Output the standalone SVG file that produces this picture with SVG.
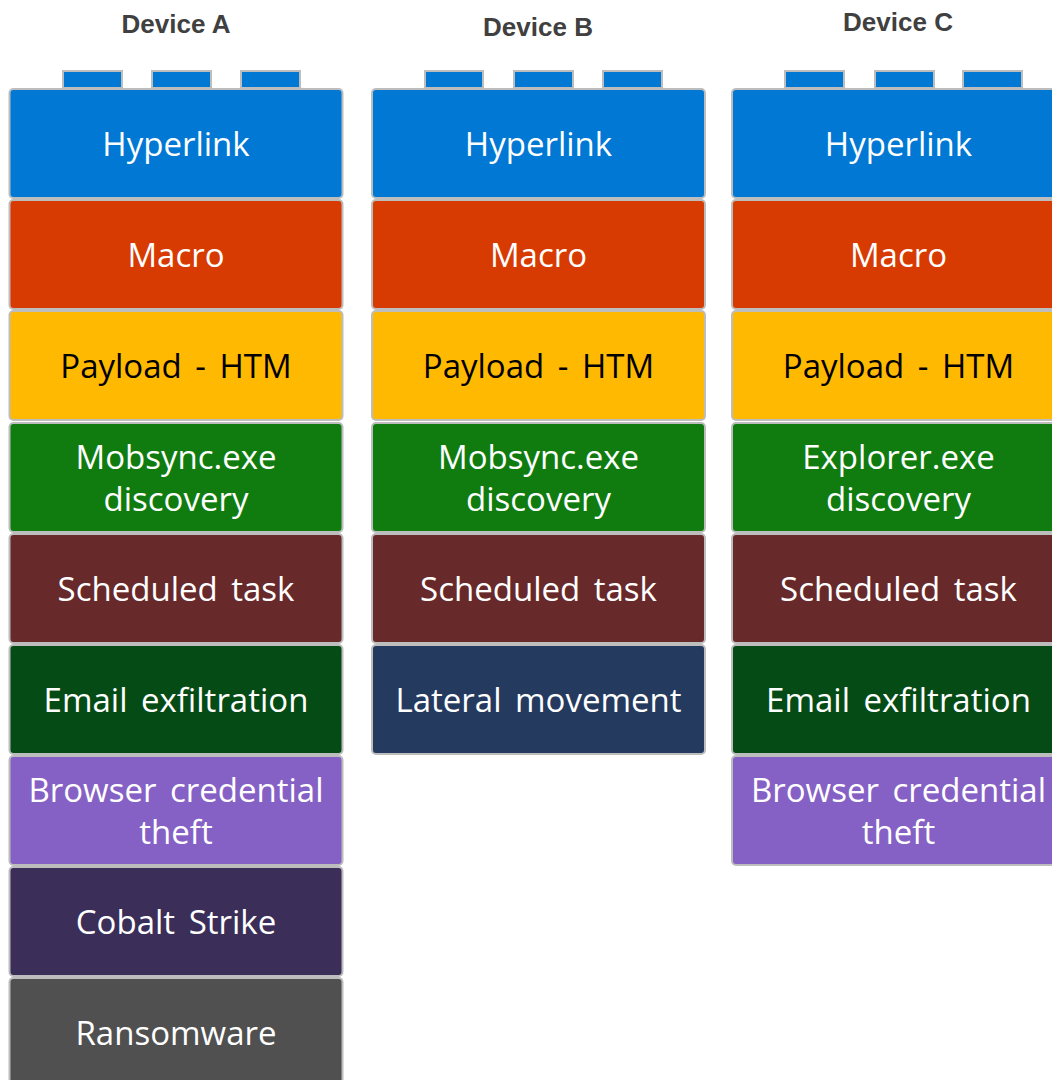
<svg xmlns="http://www.w3.org/2000/svg" width="1052" height="1080" viewBox="0 0 1052 1080">
<style>
.t{font-family:"Liberation Sans",Arial,sans-serif;font-weight:bold;font-size:26px;fill:#404040;text-anchor:middle}
.b{stroke:#BDBDBD;stroke-width:2}
.s{fill:#0078D4;stroke:#BDBDBD;stroke-width:2}
.l{font-family:"Open Sans","Noto Sans",sans-serif;font-size:33px;fill:#FFFFFF;text-anchor:middle;word-spacing:5px}
.dk{fill:#000000}
</style>
<rect width="1052" height="1080" fill="#FFFFFF"/>
<g id="titles">
<text class="t" x="176" y="33">Device A</text>
<text class="t" x="538" y="36">Device B</text>
<text class="t" x="898" y="31">Device C</text>
</g>
<g id="studs">
<rect class="s" x="63" y="71" width="59" height="17"/>
<rect class="s" x="152" y="71" width="59" height="17"/>
<rect class="s" x="241" y="71" width="59" height="17"/>
<rect class="s" x="425" y="71" width="58" height="17"/>
<rect class="s" x="514" y="71" width="59" height="17"/>
<rect class="s" x="603" y="71" width="59" height="17"/>
<rect class="s" x="785" y="71" width="59" height="17"/>
<rect class="s" x="875" y="71" width="59" height="17"/>
<rect class="s" x="963" y="71" width="59" height="17"/>
</g>
<g id="a1"><rect class="b" x="9.5" y="89" width="333" height="109" rx="4" fill="#0078D4"/><text class="l" x="176" y="156">Hyperlink</text></g>
<g id="a2"><rect class="b" x="9.5" y="200" width="333" height="109" rx="4" fill="#D83B01"/><text class="l" x="176" y="267">Macro</text></g>
<g id="a3"><rect class="b" x="9.5" y="311" width="333" height="109" rx="4" fill="#FFB900"/><text class="l dk" x="176" y="378">Payload - HTM</text></g>
<g id="a4"><rect class="b" x="9.5" y="423" width="333" height="109" rx="4" fill="#107C10"/><text class="l" x="176" y="469">Mobsync.exe</text><text class="l" x="176" y="511">discovery</text></g>
<g id="a5"><rect class="b" x="9.5" y="534" width="333" height="109" rx="4" fill="#68292A"/><text class="l" x="176" y="601">Scheduled task</text></g>
<g id="a6"><rect class="b" x="9.5" y="645" width="333" height="109" rx="4" fill="#054B16"/><text class="l" x="176" y="712">Email exfiltration</text></g>
<g id="a7"><rect class="b" x="9.5" y="756" width="333" height="109" rx="4" fill="#8661C5"/><text class="l" x="176" y="802">Browser credential</text><text class="l" x="176" y="844">theft</text></g>
<g id="a8"><rect class="b" x="9.5" y="867" width="333" height="109" rx="4" fill="#3B2E58"/><text class="l" x="176" y="934">Cobalt Strike</text></g>
<g id="a9"><rect class="b" x="9.5" y="978" width="333" height="109" rx="4" fill="#505050"/><text class="l" x="176" y="1045">Ransomware</text></g>
<g id="b1"><rect class="b" x="372" y="89" width="333" height="109" rx="4" fill="#0078D4"/><text class="l" x="538.5" y="156">Hyperlink</text></g>
<g id="b2"><rect class="b" x="372" y="200" width="333" height="109" rx="4" fill="#D83B01"/><text class="l" x="538.5" y="267">Macro</text></g>
<g id="b3"><rect class="b" x="372" y="311" width="333" height="109" rx="4" fill="#FFB900"/><text class="l dk" x="538.5" y="378">Payload - HTM</text></g>
<g id="b4"><rect class="b" x="372" y="423" width="333" height="109" rx="4" fill="#107C10"/><text class="l" x="538.5" y="469">Mobsync.exe</text><text class="l" x="538.5" y="511">discovery</text></g>
<g id="b5"><rect class="b" x="372" y="534" width="333" height="109" rx="4" fill="#68292A"/><text class="l" x="538.5" y="601">Scheduled task</text></g>
<g id="b6"><rect class="b" x="372" y="645" width="333" height="109" rx="4" fill="#243A5E"/><text class="l" x="538.5" y="712">Lateral movement</text></g>
<g id="c1"><rect class="b" x="732" y="89" width="333" height="109" rx="4" fill="#0078D4"/><text class="l" x="898.5" y="156">Hyperlink</text></g>
<g id="c2"><rect class="b" x="732" y="200" width="333" height="109" rx="4" fill="#D83B01"/><text class="l" x="898.5" y="267">Macro</text></g>
<g id="c3"><rect class="b" x="732" y="311" width="333" height="109" rx="4" fill="#FFB900"/><text class="l dk" x="898.5" y="378">Payload - HTM</text></g>
<g id="c4"><rect class="b" x="732" y="423" width="333" height="109" rx="4" fill="#107C10"/><text class="l" x="898.5" y="469">Explorer.exe</text><text class="l" x="898.5" y="511">discovery</text></g>
<g id="c5"><rect class="b" x="732" y="534" width="333" height="109" rx="4" fill="#68292A"/><text class="l" x="898.5" y="601">Scheduled task</text></g>
<g id="c6"><rect class="b" x="732" y="645" width="333" height="109" rx="4" fill="#054B16"/><text class="l" x="898.5" y="712">Email exfiltration</text></g>
<g id="c7"><rect class="b" x="732" y="756" width="333" height="109" rx="4" fill="#8661C5"/><text class="l" x="898.5" y="802">Browser credential</text><text class="l" x="898.5" y="844">theft</text></g>
<g id="connectors"></g>
</svg>
